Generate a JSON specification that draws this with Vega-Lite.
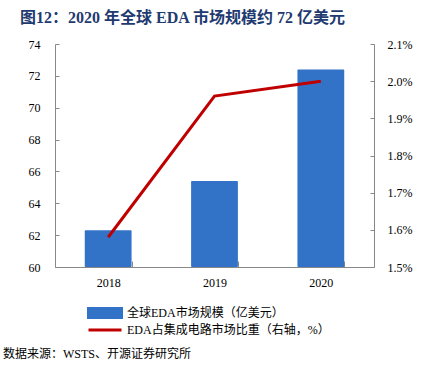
{
  "$schema": "https://vega.github.io/schema/vega-lite/v6.json",
  "padding": {"left": 3, "top": 10, "right": 5, "bottom": 10},
  "config": {
    "font": "Liberation Serif, Noto Sans CJK SC",
    "view": {"stroke": null},
    "legend": {
      "layout": {"bottom": {"anchor": "middle", "direction": "vertical"}}
    }
  },
  "title": {
    "text": "数据来源：WSTS、开源证券研究所",
    "orient": "bottom",
    "anchor": "start",
    "frame": "bounds",
    "font": "Liberation Serif, Noto Sans CJK SC",
    "fontSize": 12,
    "fontWeight": "normal",
    "color": "#000000",
    "offset": 13,
    "dx": -17
  },
  "datasets": {
    "eda": [
      {"year": "2018", "market": 62.3, "share": 0.0158},
      {"year": "2019", "market": 65.4, "share": 0.0196},
      {"year": "2020", "market": 72.4, "share": 0.0200}
    ]
  },
  "vconcat": [
    {
      "title": {
        "text": "图12：2020 年全球 EDA 市场规模约 72 亿美元",
        "anchor": "start",
        "frame": "bounds",
        "font": "Liberation Serif, Noto Sans CJK SC",
        "fontSize": 16,
        "fontWeight": "bold",
        "color": "#1F3A70",
        "offset": 12,
        "dx": -8
      },
      "width": 319,
      "height": 223,
      "data": {"name": "eda"},
      "layer": [
        {
          "mark": {"type": "bar", "cornerRadius": 1},
          "encoding": {
            "x": {
              "field": "year",
              "type": "ordinal",
              "scale": {"paddingInner": 0.56, "paddingOuter": 0.28},
              "axis": {
                "title": null,
                "labelAngle": 0,
                "labelFontSize": 12,
                "labelColor": "#000000",
                "labelPadding": 16,
                "domainColor": "#888888",
                "tickColor": "#888888",
                "tickBand": "extent",
                "tickSize": -6
              }
            },
            "y": {
              "field": "market",
              "type": "quantitative",
              "scale": {"domain": [60, 74], "zero": false, "nice": false},
              "axis": {
                "title": null,
                "values": [60, 62, 64, 66, 68, 70, 72, 74],
                "grid": false,
                "labelFontSize": 12,
                "labelColor": "#000000",
                "domainColor": "#888888",
                "tickColor": "#888888",
                "tickSize": -4,
                "labelPadding": 19
              }
            },
            "y2": {"datum": 60},
            "color": {
              "datum": "全球EDA市场规模（亿美元）",
              "type": "nominal",
              "scale": {
                "domain": ["全球EDA市场规模（亿美元）", "EDA占集成电路市场比重（右轴，%）"],
                "range": ["#3273C8", "#C00000"]
              },
              "legend": {
                "title": null,
                "orient": "bottom",
                "direction": "vertical",
                "symbolSize": 81,
                "labelFontSize": 12,
                "labelLimit": 400,
                "labelColor": "#000000",
                "labelOffset": 16,
                "rowPadding": -2,
                "padding": 0,
                "offset": 19,
                "encode": {
                  "symbols": {
                    "update": {
                      "shape": [
                        {"test": "datum.value === '全球EDA市场规模（亿美元）'", "value": "M-3.67,-1H3.67V1H-3.67Z"},
                        {"value": "M-3.67,0H3.67"}
                      ],
                      "fill": [
                        {"test": "datum.value === '全球EDA市场规模（亿美元）'", "value": "#3273C8"},
                        {"value": "transparent"}
                      ],
                      "stroke": [
                        {"test": "datum.value === '全球EDA市场规模（亿美元）'", "value": "transparent"},
                        {"value": "#C00000"}
                      ],
                      "strokeWidth": {"value": 3},
                      "opacity": {"value": 1}
                    }
                  }
                }
              }
            }
          }
        },
        {
          "mark": {"type": "line", "strokeWidth": 3},
          "encoding": {
            "x": {"field": "year", "type": "ordinal"},
            "y": {
              "field": "share",
              "type": "quantitative",
              "scale": {"domain": [0.015, 0.021], "zero": false, "nice": false},
              "axis": {
                "title": null,
                "orient": "right",
                "format": ".1%",
                "values": [0.015, 0.016, 0.017, 0.018, 0.019, 0.02, 0.021],
                "grid": false,
                "labelFontSize": 12,
                "labelColor": "#000000",
                "domainColor": "#888888",
                "tickColor": "#888888",
                "tickSize": -4,
                "labelPadding": 17
              }
            },
            "color": {
              "datum": "EDA占集成电路市场比重（右轴，%）",
              "type": "nominal"
            }
          }
        }
      ],
      "resolve": {"scale": {"y": "independent"}}
    }
  ]
}
